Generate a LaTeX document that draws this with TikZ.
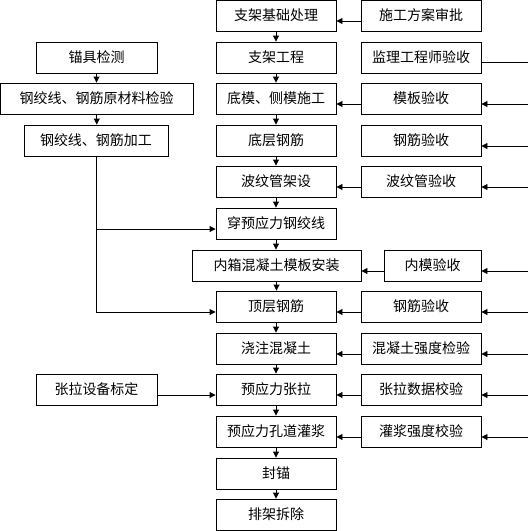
\documentclass[tikz,border=0pt]{standalone}
\usepackage{fontspec}
\setmainfont{Noto Sans CJK SC}
\usetikzlibrary{arrows.meta}
\begin{document}
\begin{tikzpicture}[x=1pt,y=-1pt,
 box/.style={draw,line width=0.9pt,minimum height=31pt,inner sep=0pt,font=\fontsize{14pt}{16pt}\selectfont},
 main/.style={box,minimum width=120pt},
 rbox/.style={box,minimum width=120pt},
 arr/.style={line width=0.9pt,-{Triangle[length=6pt,width=6pt]}},
 ln/.style={line width=0.9pt}]
\useasboundingbox (0,0) rectangle (528,531);
% main column
\node[main] (m1) at (276,15.5) {支架基础处理};
\node[main] (m2) at (276,57.5) {支架工程};
\node[main] (m3) at (276,98.5) {底模、侧模施工};
\node[main] (m4) at (276,140.5) {底层钢筋};
\node[main] (m5) at (276,181.5) {波纹管架设};
\node[main] (m6) at (276,223.5) {穿预应力钢绞线};
\node[box,minimum width=169pt] (m7) at (276.5,265.5) {内箱混凝土模板安装};
\node[main] (m8) at (276,306.5) {顶层钢筋};
\node[main] (m9) at (276,348.5) {浇注混凝土};
\node[main] (m10) at (276,389.5) {预应力张拉};
\node[main] (m11) at (276,431.5) {预应力孔道灌浆};
\node[main] (m12) at (276,473.5) {封锚};
\node[main] (m13) at (276,514.5) {排架拆除};
% right column
\node[rbox] (r1) at (421,15.5) {施工方案审批};
\node[rbox] (r2) at (421,57.5) {监理工程师验收};
\node[rbox] (r3) at (421,98.5) {模板验收};
\node[rbox] (r4) at (421,140.5) {钢筋验收};
\node[rbox] (r5) at (421,181.5) {波纹管验收};
\node[box,minimum width=97pt] (r6) at (432.5,265.5) {内模验收};
\node[rbox] (r7) at (421,306.5) {钢筋验收};
\node[rbox] (r8) at (421,348.5) {混凝土强度检验};
\node[rbox] (r9) at (421,389.5) {张拉数据校验};
\node[rbox] (r10) at (421,431.5) {灌浆强度校验};
% left column
\node[box,minimum width=121pt] (l1) at (96.5,57.5) {锚具检测};
\node[box,minimum width=192.5pt] (l2) at (96.75,98.5) {钢绞线、钢筋原材料检验};
\node[box,minimum width=144pt] (l3) at (96,140.5) {钢绞线、钢筋加工};
\node[box,minimum width=121pt] (l4) at (96.5,389.5) {张拉设备标定};
% main vertical arrows
\foreach \a/\b in {m1/m2,m2/m3,m3/m4,m4/m5,m5/m6,m6/m7,m7/m8,m8/m9,m9/m10,m10/m11,m11/m12,m12/m13}
  \draw[arr] (\a.south) -- (\a.south |- \b.north);
% left arrows
\draw[arr] (l1.south) -- (l1.south |- l2.north);
\draw[arr] (l2.south) -- (l2.south |- l3.north);
\coordinate (a6) at ([yshift=-5.5pt]m6.west);
\coordinate (a8) at ([yshift=-5.5pt]m8.west);
\draw[arr] (l3.south) |- (a8);
\draw[arr] (l3.south |- a6) -- (a6);
\draw[arr] ([yshift=-5.5pt]l4.east) -- ([yshift=-5.5pt]m10.west);
% right to main arrows
\foreach \a/\b in {r1/m1,r3/m3,r5/m5,r6/m7,r7/m8,r8/m9,r9/m10,r10/m11}
  \draw[arr] ([yshift=-5.5pt]\a.west) -- ([yshift=-5.5pt]\b.east);
% lines from right edge
\coordinate (E) at (528,0);
\path ([yshift=-5pt]r2.east) coordinate (br2);
\draw[ln] (br2) -- (br2 -| E);
\foreach \n in {r3,r4,r5,r6,r7,r8,r9,r10}{
  \path ([yshift=-5.5pt]\n.east) coordinate (b\n);
  \draw[arr] (b\n -| E) -- (b\n);
}
\end{tikzpicture}
\end{document}
